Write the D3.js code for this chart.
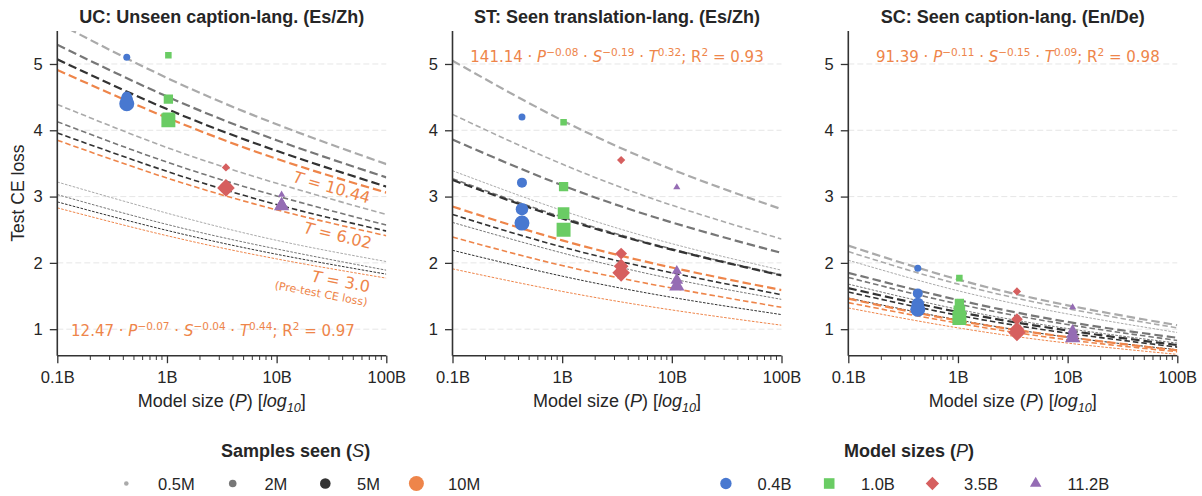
<!DOCTYPE html>
<html><head><meta charset="utf-8">
<script src="https://cdn.jsdelivr.net/npm/d3@7"></script>
<style>body{margin:0;background:#fff} svg{display:block}</style>
</head><body><svg id="chart" width="1202" height="496"></svg>
<script>
// ---------------- DATA ----------------
const panelTitles = ["UC: Unseen caption-lang. (Es/Zh)", "ST: Seen translation-lang. (Es/Zh)", "SC: Seen caption-lang. (En/De)"];
const sampleLabels = ["0.5M", "2M", "5M", "10M"];
const modelLabels = ["0.4B", "1.0B", "3.5B", "11.2B"];
const modelParamsB = [0.43, 1.03, 3.45, 11.1];     // x position of each model (billions)
const tLabels = ["10.44", "6.02", "3.0"];
const fitXB = [0.1, 1, 10, 100];                   // x values where fit lines are read
const xTickValues = [0.1, 1, 10, 100];
const xTickLabels = ["0.1B", "1B", "10B", "100B"];
const yTickValues = [1, 2, 3, 4, 5];

// equation annotations
const eqCoef = ["12.47", "141.14", "91.39"];
const eqExpP = ["\u22120.07", "\u22120.08", "\u22120.11"];
const eqExpS = ["\u22120.04", "\u22120.19", "\u22120.15"];
const eqExpT = ["0.44", "0.32", "0.09"];
const eqR2 = ["0.97", "0.93", "0.98"];

// Fit lines (rows = samples 0.5M, 2M, 5M, 10M; cols = loss at fitXB)
const ucFitT1044 = [[5.62,4.79,4.09,3.49],[5.29,4.51,3.85,3.29],[5.07,4.32,3.69,3.15],[4.91,4.19,3.57,3.06]];
const ucFitT602  = [[4.39,3.74,3.20,2.73],[4.13,3.52,3.01,2.57],[3.96,3.38,2.88,2.48],[3.85,3.28,2.80,2.41]];
const ucFitT30   = [[3.22,2.75,2.34,2.02],[3.03,2.58,2.21,1.89],[2.92,2.49,2.13,1.83],[2.83,2.41,2.06,1.77]];
const stFitT1044 = [[5.05,4.15,3.41,2.81],[3.86,3.17,2.61,2.15],[3.25,2.67,2.20,1.81],[2.85,2.34,1.93,1.59]];
const stFitT602  = [[4.24,3.49,2.87,2.36],[3.27,2.69,2.21,1.82],[2.73,2.24,1.85,1.52],[2.39,1.96,1.62,1.33]];
const stFitT30   = [[3.39,2.79,2.29,1.89],[2.61,2.15,1.76,1.45],[2.19,1.80,1.48,1.22],[1.91,1.57,1.29,1.06]];
const scFitT1044 = [[2.26,1.75,1.36,1.06],[1.85,1.44,1.11,0.87],[1.62,1.26,0.98,0.76],[1.46,1.13,0.88,0.68]];
const scFitT602  = [[2.17,1.68,1.31,1.02],[1.78,1.38,1.07,0.83],[1.56,1.21,0.94,0.73],[1.40,1.09,0.84,0.66]];
const scFitT30   = [[2.04,1.58,1.23,0.95],[1.68,1.30,1.01,0.79],[1.47,1.14,0.88,0.69],[1.32,1.02,0.79,0.62]];

// Observed test CE loss (rows = model 0.4B,1.0B,3.5B,11.2B; cols = samples 0.5M,2M,5M,10M)
const ucPoints = [[5.10,4.51,4.46,4.40],[5.13,4.47,4.18,4.15],[3.44,3.17,3.15,3.13],[3.03,2.90,2.88,2.86]];
const stPoints = [[4.20,3.21,2.81,2.60],[4.12,3.15,2.75,2.50],[3.55,2.14,1.95,1.85],[3.14,1.88,1.74,1.65]];
const scPoints = [[1.92,1.54,1.38,1.30],[1.77,1.39,1.27,1.17],[1.57,1.15,1.00,0.95],[1.33,0.99,0.93,0.87]];

// ---------------- STYLE ----------------
const sampleColors = ["#aaaaaa", "#777777", "#333333", "#ee854a"];
const modelColors = ["#4878d0", "#6acc64", "#d65f5f", "#956cb4"];
const modelShapes = [d3.symbolCircle, d3.symbolSquare, d3.symbolDiamond2, d3.symbolTriangle];
const sampleMarkerDiam = [7, 10, 12.5, 15];
const tWidths = [2.2, 1.6, 1.0];
const tDash = ["8.5,4", "5.5,3", "2.6,1.4"];
const orange = "#ee854a";
const FONT = "'Liberation Sans', Arial, sans-serif";
const MATH = "'DejaVu Sans', sans-serif";
const TXT = "#262626";

const panelFits = [[ucFitT1044, ucFitT602, ucFitT30], [stFitT1044, stFitT602, stFitT30], [scFitT1044, scFitT602, scFitT30]];
const panelPoints = [ucPoints, stPoints, scPoints];
const panelLefts = [57.3, 452.5, 848.3];
const plotW = 329, plotTop = 31, plotBottom = 355.7;

function shapeArea(shapeIdx, d) {
  if (shapeIdx === 0) return Math.PI * d * d / 4;
  if (shapeIdx === 1) return Math.pow(0.93 * d, 2);
  if (shapeIdx === 2) return Math.pow(1.33 * d, 2) / 2;
  return 0.45 * d * d;
}

const svg = d3.select("#chart");
const y = d3.scaleLinear().domain([0.6, 5.5]).range([plotBottom, plotBottom - 4.9 * 66.3]);

panelTitles.forEach((title, pi) => {
  const left = panelLefts[pi];
  const x = d3.scaleLog().domain([0.1, 100]).range([left, left + plotW]);
  const g = svg.append("g");

  // grid
  g.selectAll(".grid").data(yTickValues).join("line")
    .attr("x1", left).attr("x2", left + plotW)
    .attr("y1", d => y(d)).attr("y2", d => y(d))
    .attr("stroke", "#e6e6e6").attr("stroke-width", 1).attr("stroke-dasharray", "6,3");

  // clip
  const clipId = "clip" + pi;
  svg.append("clipPath").attr("id", clipId).append("rect")
    .attr("x", left).attr("y", plotTop).attr("width", plotW).attr("height", plotBottom - plotTop);

  const plot = g.append("g").attr("clip-path", `url(#${clipId})`);
  const line = d3.line().x((d, i) => x(fitXB[i])).y(d => y(d)).curve(d3.curveNatural);

  const fits = panelFits[pi];
  sampleLabels.forEach((s, si) => {
    tLabels.forEach((t, ti) => {
      plot.append("path").datum(fits[ti][si])
        .attr("d", line).attr("fill", "none")
        .attr("stroke", sampleColors[si]).attr("stroke-width", tWidths[ti])
        .attr("stroke-dasharray", tDash[ti]);
    });
  });

  // points
  const pts = panelPoints[pi];
  modelLabels.forEach((m, mi) => {
    sampleLabels.forEach((s, si) => {
      const d = sampleMarkerDiam[si];
      plot.append("path")
        .attr("d", d3.symbol().type(modelShapes[mi]).size(shapeArea(mi, d))())
        .attr("transform", `translate(${x(modelParamsB[mi])},${y(pts[mi][si])})`)
        .attr("fill", modelColors[mi]);
    });
  });

  // axes
  const xAxis = d3.axisBottom(x).tickValues(xTickValues).tickFormat((d, i) => xTickLabels[i]).tickSize(7.5).tickPadding(8.5);
  const xg = g.append("g").attr("transform", `translate(0,${plotBottom})`).call(xAxis);
  const minor = [];
  [0.1, 1, 10].forEach(b => { for (let k = 2; k <= 9; k++) minor.push(b * k); });
  g.append("g").selectAll("line").data(minor).join("line")
    .attr("x1", d => x(d)).attr("x2", d => x(d))
    .attr("y1", plotBottom).attr("y2", plotBottom + 4.3)
    .attr("stroke", "#333").attr("stroke-width", 1);
  const yAxis = d3.axisLeft(y).tickValues(yTickValues).tickFormat(d3.format("d")).tickSize(7.5).tickPadding(7);
  const yg = g.append("g").attr("transform", `translate(${left},0)`).call(yAxis);
  [xg, yg].forEach(a => {
    a.select(".domain").attr("stroke", "#333").attr("stroke-width", 1.6);
    a.selectAll(".tick line").attr("stroke", "#333").attr("stroke-width", 1.3);
    a.selectAll(".tick text").attr("fill", TXT).style("font-family", FONT).style("font-size", "16.5px");
  });
  xg.select(".domain").attr("d", `M${left},0H${left + plotW}`);
  yg.select(".domain").attr("d", `M0,${plotTop}V${plotBottom}`);

  // title
  g.append("text").attr("x", left + plotW / 2).attr("y", 22.7).attr("text-anchor", "middle")
    .style("font-family", FONT).style("font-size", "18px").style("font-weight", "bold").attr("fill", TXT)
    .text(title);

  // x label
  const xl = g.append("text").attr("x", left + plotW / 2).attr("y", 407).attr("text-anchor", "middle")
    .style("font-family", FONT).style("font-size", "18px").attr("fill", TXT);
  xl.append("tspan").text("Model size (");
  xl.append("tspan").style("font-style", "italic").text("P");
  xl.append("tspan").text(") [");
  xl.append("tspan").style("font-style", "italic").text("log");
  xl.append("tspan").attr("dy", 4.5).style("font-size", "12.6px").style("font-style", "italic").text("10");
  xl.append("tspan").attr("dy", -4.5).text("]");

  // equation
  const eqX = pi === 0 ? 213 : left + plotW / 2 + (pi === 2 ? 5 : 0);
  const eqY = pi === 0 ? 335.5 : 61.5;
  const eq = g.append("text").attr("x", eqX).attr("y", eqY).attr("text-anchor", "middle")
    .style("font-family", MATH).style("font-size", "15px").attr("fill", orange);
  const sup = (txt) => { eq.append("tspan").attr("dy", -6).style("font-size", "10.5px").text(txt); };
  const back = (txt) => { eq.append("tspan").attr("dy", 6).text(txt); };
  eq.append("tspan").text(eqCoef[pi] + " \u00b7 ");
  eq.append("tspan").style("font-style", "italic").text("P");
  sup(eqExpP[pi]);
  back(" \u00b7 ");
  eq.append("tspan").style("font-style", "italic").text("S");
  sup(eqExpS[pi]);
  back(" \u00b7 ");
  eq.append("tspan").style("font-style", "italic").text("T");
  sup(eqExpT[pi]);
  back("; R");
  sup("2");
  back(" = " + eqR2[pi]);
});

// T labels (panel 1)
const tLabelPos = [[332, 187, 16], [338, 235, 13.5], [341, 281, 10.5]];
tLabels.forEach((t, ti) => {
  const [cx, cy, ang] = tLabelPos[ti];
  const tx = svg.append("text").attr("transform", `translate(${cx},${cy}) rotate(${ang})`)
    .attr("text-anchor", "middle").attr("dominant-baseline", "central")
    .style("font-family", MATH).style("font-size", "16px").attr("fill", orange);
  tx.append("tspan").style("font-style", "italic").text("T");
  tx.append("tspan").text(" = " + t);
});
svg.append("text").attr("transform", `translate(321,294) rotate(10.5)`)
  .attr("text-anchor", "middle").attr("dominant-baseline", "central")
  .style("font-family", MATH).style("font-size", "11px").attr("fill", orange)
  .text("(Pre-test CE loss)");

// y label
svg.append("text").attr("transform", "translate(23.5,193) rotate(-90)").attr("text-anchor", "middle")
  .style("font-family", FONT).style("font-size", "17.5px").attr("fill", TXT).text("Test CE loss");

// Legends
const leg1 = svg.append("text").attr("x", 295.6).attr("y", 456.5).attr("text-anchor", "middle")
  .style("font-family", FONT).style("font-size", "18px").style("font-weight", "bold").attr("fill", TXT);
leg1.append("tspan").text("Samples seen (");
leg1.append("tspan").style("font-style", "italic").style("font-weight", "normal").text("S");
leg1.append("tspan").text(")");
const sLegX = [126.3, 232.7, 325.3, 416.4];
const sLegR = [2.3, 3.8, 5.3, 7.5];
sampleLabels.forEach((s, si) => {
  svg.append("circle").attr("cx", sLegX[si]).attr("cy", 483.5).attr("r", sLegR[si]).attr("fill", sampleColors[si]);
  svg.append("text").attr("x", sLegX[si] + 31.7).attr("y", 489.5).style("font-family", FONT)
    .style("font-size", "16.5px").attr("fill", TXT).text(s);
});
const leg2 = svg.append("text").attr("x", 909).attr("y", 456.5).attr("text-anchor", "middle")
  .style("font-family", FONT).style("font-size", "18px").style("font-weight", "bold").attr("fill", TXT);
leg2.append("tspan").text("Model sizes (");
leg2.append("tspan").style("font-style", "italic").style("font-weight", "normal").text("P");
leg2.append("tspan").text(")");
const mLegX = [725.9, 829.2, 932.4, 1035.7];
const mLegD = [11.4, 11.4, 11.3, 11.3];
modelLabels.forEach((m, mi) => {
  svg.append("path").attr("d", d3.symbol().type(modelShapes[mi]).size(shapeArea(mi, mLegD[mi]))())
    .attr("transform", `translate(${mLegX[mi]},483.5)`).attr("fill", modelColors[mi]);
  svg.append("text").attr("x", mLegX[mi] + 31.7).attr("y", 489.5).style("font-family", FONT)
    .style("font-size", "16.5px").attr("fill", TXT).text(m);
});
</script></body></html>
